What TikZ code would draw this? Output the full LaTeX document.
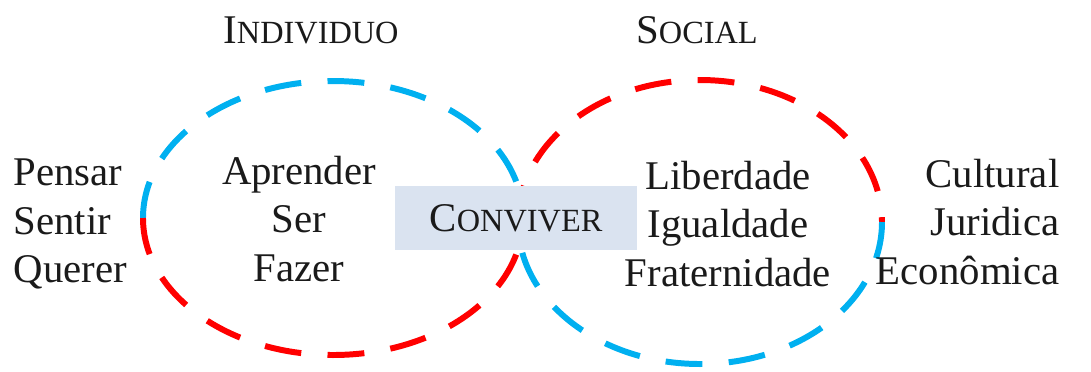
\documentclass[tikz,border=0pt]{standalone}
\usepackage{fontspec}
\setmainfont{Liberation Serif}
\usetikzlibrary{positioning}
\definecolor{sky1}{HTML}{00B0F0}
\definecolor{red1}{HTML}{FF0000}
\definecolor{boxfill}{HTML}{DAE3F0}
\definecolor{ink}{HTML}{1A1A1A}
\newcommand{\fakesc}[2]{#1{\fontsize{9.2pt}{10pt}\selectfont #2}}

\begin{document}
\begin{tikzpicture}[x=1cm,y=1cm,
  ring/.style={line width=1.7pt,dash pattern=on 10.5pt off 7.5pt},
  word/.style={font=\fontsize{11.6pt}{13.9pt}\selectfont,color=ink,inner sep=0pt,align=center}]
  \useasboundingbox (0,0) rectangle (10.91,3.71);
  % individuo ring: blue on top, red below
  \draw[ring,sky1] (1.43,1.53) arc[start angle=180,end angle=0,x radius=1.90,y radius=1.37];
  \draw[ring,red1] (1.43,1.53) arc[start angle=180,end angle=360,x radius=1.90,y radius=1.37];
  % social ring: red on top, blue below
  \draw[ring,red1] (5.18,1.49) arc[start angle=180,end angle=0,x radius=1.82,y radius=1.42];
  \draw[ring,sky1] (8.82,1.49) arc[start angle=0,end angle=-180,x radius=1.82,y radius=1.42];
  % overlap box
  \node[word,fill=boxfill,minimum width=2.42cm,minimum height=0.64cm] (conviver)
       at (5.16,1.53) {\fakesc{C}{ONVIVER}};
  % titles
  \node[word] (individuo) at (3.11,3.41) {\fakesc{I}{NDIVIDUO}};
  \node[word] (social) at (6.97,3.41) {\fakesc{S}{OCIAL}};
  % word lists
  \node[word,align=left,anchor=west] (faculdades) at (0.13,1.47) {Pensar\\Sentir\\Querer};
  \node[word] (saberes) at (2.99,1.52) {Aprender\\Ser\\Fazer};
  \node[word] (ideais) at (7.28,1.47) {Liberdade\\Igualdade\\Fraternidade};
  \node[word,align=right,anchor=east] (esferas) at (10.60,1.49) {Cultural\\Juridica\\Econômica};
\end{tikzpicture}
\end{document}
